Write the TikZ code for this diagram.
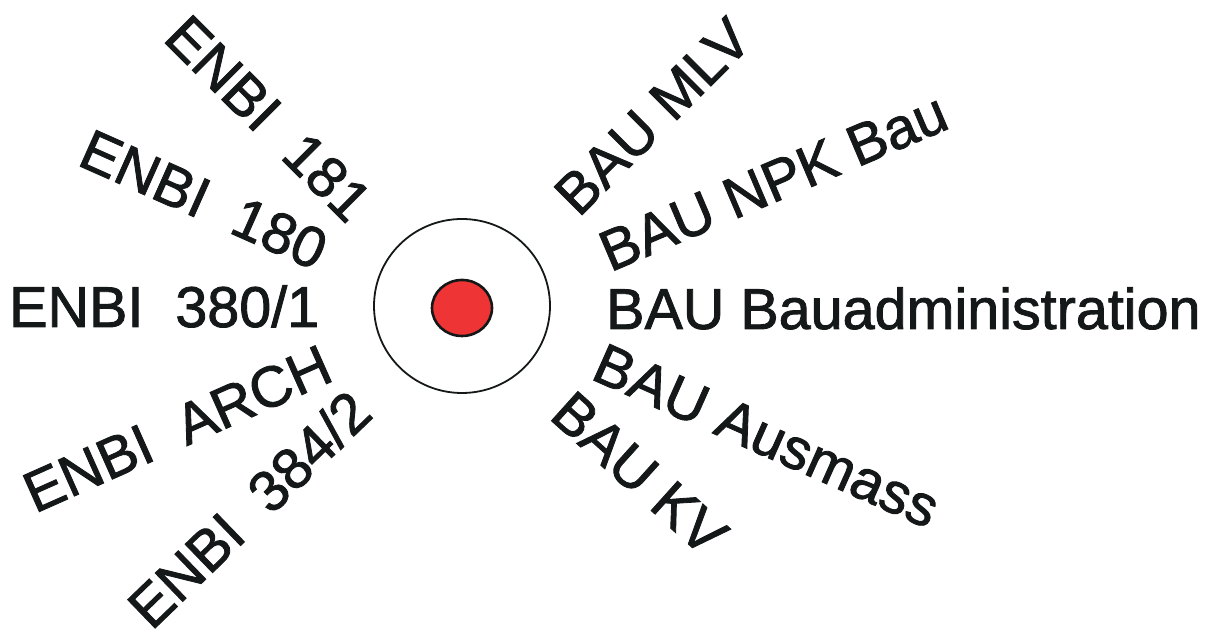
\documentclass[tikz,border=0pt]{standalone}
\usepackage{fontspec}
\setmainfont[FakeBold=1.5]{Liberation Sans}
\usepackage{xcolor}
\usepackage{tikz}
\usetikzlibrary{positioning}
\definecolor{dotred}{RGB}{238,52,52}
\definecolor{ink}{RGB}{20,24,24}

\begin{document}
\begin{tikzpicture}[x=1pt, y=1pt,
    lbl/.style={inner sep=0pt, text=ink, text height=41pt, text depth=0pt,
      font=\fontsize{57.5}{60}\selectfont}]

  \useasboundingbox (0, 0) rectangle (1208, 636);

  % outer ring and red core
  \draw[ink, line width=1.8pt] (462, 330) ellipse (88 and 87);
  \draw[ink, line width=2.6pt, fill=dotred] (462, 328) ellipse (30 and 28);

  % ENBI side (left)
  \node[lbl, rotate=-45] (e181) at (269, 518) {ENBI\ \ 181};
  \node[lbl, rotate=-24] (e180) at (204, 437) {ENBI\ \ 180};
  \node[lbl, anchor=base west] (e380) at (9, 309) {ENBI\ \ 380/1};
  \node[lbl, rotate=24]  (earch) at (177, 208) {ENBI\ \ ARCH};
  \node[lbl, rotate=44]  (e384) at (249, 127) {ENBI\ \ 384/2};

  % BAU side (right)
  \node[lbl, rotate=45]  (bmlv) at (652, 520) {BAU MLV};
  \node[lbl, rotate=23]  (bnpk) at (773, 455) {BAU NPK Bau};
  \node[lbl, anchor=base west] (badm) at (606, 307) {BAU Bauadministration};
  \node[lbl, rotate=-24] (baus) at (767, 201) {BAU Ausmass};
  \node[lbl, rotate=-42] (bkv) at (640, 163) {BAU KV};
\end{tikzpicture}
\end{document}
